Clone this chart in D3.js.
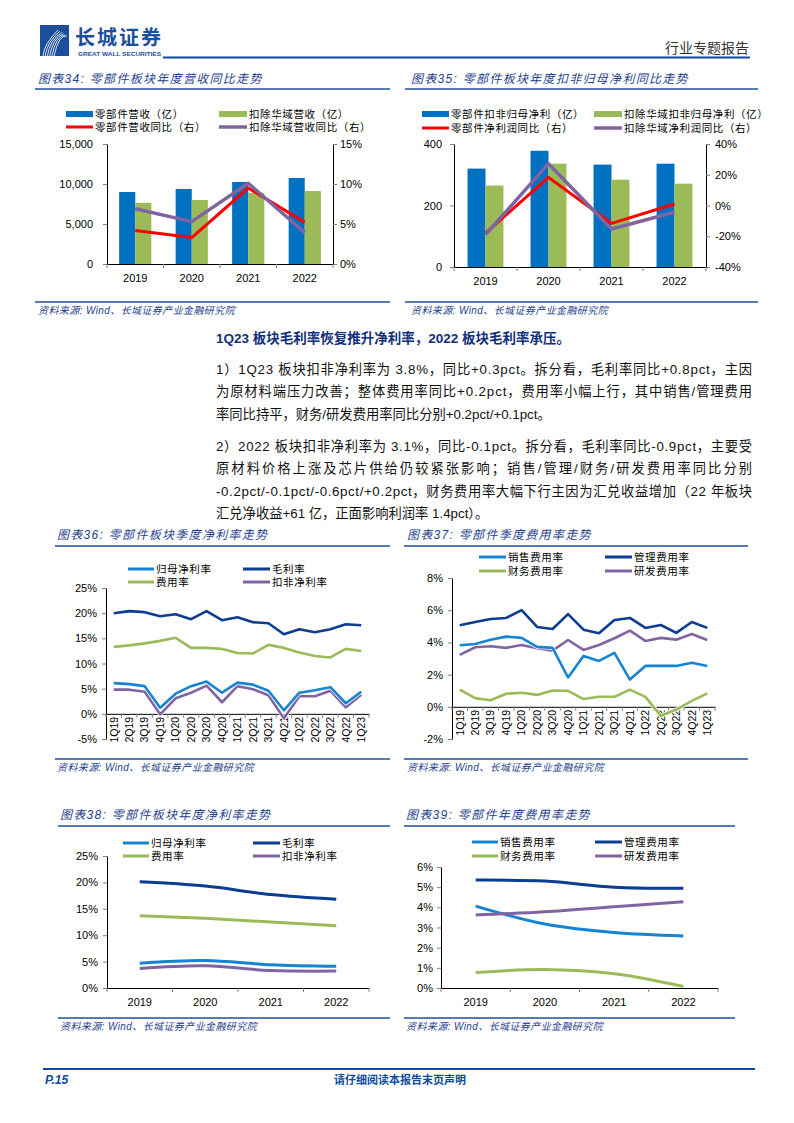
<!DOCTYPE html>
<html><head><meta charset="utf-8">
<script src="https://cdn.jsdelivr.net/npm/d3@7/dist/d3.min.js"></script>
<style>
html,body{margin:0;padding:0;background:#fff;}
</style></head><body>
<svg id="page" width="794" height="1123" xmlns="http://www.w3.org/2000/svg"></svg>
<script>
// ---------------- DATA ----------------
const years = ["2019", "2020", "2021", "2022"];
const quarters = ["1Q19","2Q19","3Q19","4Q19","1Q20","2Q20","3Q20","4Q20","1Q21","2Q21","3Q21","4Q21","1Q22","2Q22","3Q22","4Q22","1Q23"];

// 图表34 营收（亿）及同比（%）
const revenue = [9000, 9380, 10250, 10750];
const revenueExHY = [7650, 8000, 8900, 9120];
const revenueYoY = [4.2, 3.3, 9.5, 5.2];
const revenueExHYYoY = [6.9, 5.3, 10.1, 3.9];
const revLeftTicks = [0, 5000, 10000, 15000];
const revRightTicks = [0, 5, 10, 15];

// 图表35 扣非归母净利（亿）及同比（%）
const profit = [320, 378, 333, 336];
const profitExHY = [265, 336, 284, 271];
const profitYoY = [-17.9, 18.3, -11.6, 1.0];
const profitExHYYoY = [-19.0, 27.2, -15.3, -4.4];
const profLeftTicks = [0, 200, 400];
const profRightTicks = [-40, -20, 0, 20, 40];

// 图表36 季度净利率（%）
const qNetMargin = [6.1,5.9,5.5,1.2,4.0,5.5,6.4,4.2,6.2,5.8,4.6,0.7,4.2,4.7,5.3,2.1,4.4];
const qGrossMargin = [20.0,20.4,20.2,19.4,19.8,18.8,20.4,18.6,19.2,18.2,18.0,15.8,16.8,16.2,16.8,17.8,17.6];
const qExpenseRate = [13.3,13.6,14.0,14.5,15.1,13.1,13.1,12.9,12.1,12.0,13.7,13.1,12.2,11.5,11.2,12.9,12.5];
const qNetExMargin = [4.8,4.8,4.4,-0.1,3.1,4.2,5.6,2.3,5.5,4.9,3.7,-0.9,3.5,3.5,4.6,1.3,3.8];
const q36Ticks = [-5, 0, 5, 10, 15, 20, 25];

// 图表37 季度费用率（%）
const qSelling = [3.82,3.90,4.17,4.36,4.28,3.72,3.66,1.82,3.16,2.85,3.35,1.69,2.54,2.54,2.54,2.73,2.54];
const qAdmin = [5.06,5.27,5.45,5.52,6.01,4.96,4.83,5.76,4.79,4.57,5.39,5.52,4.90,5.08,4.59,5.27,4.90];
const qFinance = [1.07,0.54,0.41,0.81,0.87,0.74,1.01,0.99,0.48,0.62,0.62,1.07,0.62,-0.56,-0.17,0.37,0.83];
const qRD = [3.22,3.70,3.76,3.66,3.84,3.64,3.49,4.15,3.53,3.84,4.26,4.73,4.09,4.28,4.17,4.52,4.15];
const q37Ticks = [-2, 0, 2, 4, 6, 8];

// 图表38 年度净利率（%）
const yNetMargin = [4.7, 5.2, 4.4, 4.1];
const yGrossMargin = [20.1, 19.3, 17.7, 16.8];
const yExpenseRate = [13.7, 13.2, 12.5, 11.8];
const yNetExMargin = [3.7, 4.2, 3.3, 3.2];
const y38Ticks = [0, 5, 10, 15, 20, 25];

// 图表39 年度费用率（%）
const ySelling = [4.06, 3.17, 2.75, 2.58];
const yAdmin = [5.35, 5.30, 5.00, 4.95];
const yFinance = [0.77, 0.92, 0.71, 0.08];
const yRD = [3.62, 3.78, 4.03, 4.28];
const y39Ticks = [0, 1, 2, 3, 4, 5, 6];

// ---------------- STYLE ----------------
const NUM = "'Liberation Sans', Arial, 'Noto Sans CJK SC', sans-serif";
const CJK = "'Liberation Sans', 'Noto Sans CJK SC', sans-serif";
const TITLE_C = "#1F3F8C";
const RULE_C = "#1F4E99";
const C_BAR1 = "#0070C0", C_BAR2 = "#9BBB59", C_RED = "#FF0000", C_PURPLE = "#8064A2";
const C_LBLUE = "#1584D2", C_NAVY = "#0B3D91", C_GREEN = "#9BBB59";

const svg = d3.select("#page");

// ---------------- HEADER / FOOTER ----------------
(function header() {
  const g = svg.append("g");
  g.append("rect").attr("x", 40).attr("y", 25).attr("width", 29).attr("height", 31).attr("fill", "#1B4F9C");
  for (let i = 0; i < 6; i++) {
    g.append("path")
      .attr("d", `M${43 + i * 2.2},56 Q${44 + i * 3},${44 - i * 2} ${58 + i * 1.8},${30 + i * 1.2}`)
      .attr("fill", "none").attr("stroke", "#fff").attr("stroke-width", 0.9).attr("opacity", 0.9);
  }
  g.append("text").attr("x", 75).attr("y", 44.5).text("长城证券")
    .attr("font-family", "'Noto Sans CJK SC'").attr("font-weight", 700).attr("font-size", 20)
    .attr("letter-spacing", 2).attr("fill", "#1B4F9C");
  g.append("text").attr("x", 78).attr("y", 56).text("GREAT WALL SECURITIES")
    .attr("font-family", NUM).attr("font-weight", 700).attr("font-size", 5.8)
    .attr("textLength", 83).attr("lengthAdjust", "spacingAndGlyphs").attr("fill", "#1B4F9C");
  g.append("text").attr("x", 749).attr("y", 53).attr("text-anchor", "end").text("行业专题报告")
    .attr("font-family", "'Noto Sans CJK SC'").attr("font-size", 14).attr("fill", "#333");
  g.append("line").attr("x1", 163).attr("x2", 750).attr("y1", 57.5).attr("y2", 57.5)
    .attr("stroke", "#0B4A9E").attr("stroke-width", 2.2);

  svg.append("line").attr("x1", 43).attr("x2", 755).attr("y1", 1069).attr("y2", 1069)
    .attr("stroke", "#0B4A9E").attr("stroke-width", 2.2);
  svg.append("text").attr("x", 45).attr("y", 1084).text("P.15")
    .attr("font-family", NUM).attr("font-weight", 700).attr("font-style", "italic").attr("font-size", 12).attr("fill", "#0B4A9E");
  svg.append("text").attr("x", 400).attr("y", 1084).attr("text-anchor", "middle").text("请仔细阅读本报告末页声明")
    .attr("font-family", "'Noto Sans CJK SC'").attr("font-weight", 700).attr("font-size", 11).attr("fill", "#0B4A9E");
})();

// ---------------- PANEL FRAME ----------------
function panel(o) {
  svg.append("text").attr("x", o.tx).attr("y", o.ty).text(o.title)
    .attr("font-family", CJK).attr("font-style", "italic").attr("font-size", 12)
    .attr("letter-spacing", 1.3).attr("fill", TITLE_C);
  svg.append("line").attr("x1", o.x0).attr("x2", o.x1).attr("y1", o.r1).attr("y2", o.r1)
    .attr("stroke", RULE_C).attr("stroke-width", 1.4);
  svg.append("line").attr("x1", o.x0).attr("x2", o.x1).attr("y1", o.r2).attr("y2", o.r2)
    .attr("stroke", RULE_C).attr("stroke-width", 1.4);
  svg.append("text").attr("x", o.tx).attr("y", o.r2 + 12).text("资料来源: Wind、长城证券产业金融研究院")
    .attr("font-family", CJK).attr("font-style", "italic").attr("font-size", 10)
    .attr("letter-spacing", 0.4).attr("fill", TITLE_C);
}

function legend(items) {
  items.forEach(it => {
    if (it.type === "bar") {
      svg.append("rect").attr("x", it.sx).attr("y", it.y - 3).attr("width", it.sw).attr("height", 6).attr("fill", it.color);
    } else {
      svg.append("line").attr("x1", it.sx).attr("x2", it.sx + it.sw).attr("y1", it.y).attr("y2", it.y)
        .attr("stroke", it.color).attr("stroke-width", it.w || 3);
    }
    svg.append("text").attr("x", it.sx + it.sw + 2).attr("y", it.y).attr("dy", "0.36em").text(it.label)
      .attr("font-family", CJK).attr("font-size", 10.5).attr("letter-spacing", 0.6).attr("fill", "#000");
  });
}

function yAxis(scale, x, side, ticks, fmt, pad) {
  const ax = (side === "left" ? d3.axisLeft(scale) : d3.axisRight(scale))
    .tickValues(ticks).tickFormat(fmt).tickSizeOuter(0).tickSizeInner(4).tickPadding(pad);
  const a = svg.append("g").attr("transform", `translate(${x},0)`).call(ax);
  a.select(".domain").attr("stroke", "#000").attr("stroke-width", 1);
  a.selectAll(".tick line").attr("stroke", "#7f7f7f");
  a.selectAll(".tick text").attr("font-family", NUM).attr("font-size", 11).attr("fill", "#000");
  return a;
}

function xBoundaryTicks(band, y) {
  const r = band.range();
  const n = band.domain().length;
  const edges = d3.range(n + 1).map(i => r[0] + i * band.step());
  svg.append("g").selectAll("line").data(edges).join("line")
    .attr("x1", d => d).attr("x2", d => d).attr("y1", y).attr("y2", y + 4)
    .attr("stroke", "#7f7f7f").attr("stroke-width", 1);
}

function xAxisLabels(band, y, opts) {
  const ax = d3.axisBottom(band).tickSize(0).tickSizeOuter(0).tickPadding(opts.pad || 6);
  const a = svg.append("g").attr("transform", `translate(0,${y})`).call(ax);
  a.select(".domain").attr("stroke", "#000").attr("stroke-width", 1);
  a.selectAll(".tick text").attr("font-family", NUM).attr("font-size", opts.size || 11).attr("fill", "#000");
  if (opts.rotate) {
    a.selectAll(".tick text").attr("transform", "rotate(-90)").attr("text-anchor", "end")
      .attr("x", -3).attr("y", 0).attr("dy", "0.36em");
  }
  return a;
}

// ---------------- BAR + LINE COMBO ----------------
function comboChart(o) {
  const x = d3.scaleBand().domain(years).range([o.x0, o.x1]);
  const yL = d3.scaleLinear().domain(o.ldom).range([o.yb, o.yt]);
  const yR = d3.scaleLinear().domain(o.rdom).range([o.yb, o.yt]);
  const bw = x.bandwidth() * 0.285;
  const cx = d => x(d) + x.bandwidth() / 2;

  svg.append("g").selectAll("rect").data(years).join("rect")
    .attr("x", d => cx(d) - bw).attr("width", bw)
    .attr("y", (d, i) => yL(o.bar1[i])).attr("height", (d, i) => yL(0) - yL(o.bar1[i]))
    .attr("fill", C_BAR1);
  svg.append("g").selectAll("rect").data(years).join("rect")
    .attr("x", d => cx(d)).attr("width", bw)
    .attr("y", (d, i) => yL(o.bar2[i])).attr("height", (d, i) => yL(0) - yL(o.bar2[i]))
    .attr("fill", C_BAR2);

  yAxis(yL, o.x0, "left", o.lticks, o.lfmt, o.lpad);
  yAxis(yR, o.x1, "right", o.rticks, d => d + "%", o.rpad);
  xAxisLabels(x, o.yb, { pad: 10, size: 11 });
  xBoundaryTicks(x, o.yb);

  const line = d3.line().x((v, i) => cx(years[i])).y(v => yR(v));
  svg.append("path").datum(o.line1).attr("d", line).attr("fill", "none")
    .attr("stroke", C_RED).attr("stroke-width", 3).attr("stroke-linejoin", "round");
  svg.append("path").datum(o.line2).attr("d", line).attr("fill", "none")
    .attr("stroke", C_PURPLE).attr("stroke-width", 3.5).attr("stroke-linejoin", "round");
}

// 图表34
panel({ tx: 38, ty: 83, title: "图表34: 零部件板块年度营收同比走势", x0: 35, x1: 390, r1: 89, r2: 302 });
legend([
  { type: "bar", sx: 66, sw: 27, y: 114, color: C_BAR1, label: "零部件营收（亿）" },
  { type: "bar", sx: 219, sw: 28, y: 114, color: C_BAR2, label: "扣除华域营收（亿）" },
  { type: "line", sx: 66, sw: 27, y: 127, color: C_RED, label: "零部件营收同比（右）" },
  { type: "line", sx: 219, sw: 28, y: 127, color: C_PURPLE, w: 3.5, label: "扣除华域营收同比（右）" }
]);
comboChart({
  x0: 107, x1: 333, yt: 144, yb: 264,
  ldom: [0, 15000], rdom: [0, 15], lticks: revLeftTicks, rticks: revRightTicks,
  lfmt: d3.format(","), lpad: 10, rpad: 3,
  bar1: revenue, bar2: revenueExHY, line1: revenueYoY, line2: revenueExHYYoY
});

// 图表35
panel({ tx: 411, ty: 83, title: "图表35: 零部件板块年度扣非归母净利同比走势", x0: 405, x1: 758, r1: 89, r2: 302 });
legend([
  { type: "bar", sx: 422, sw: 27, y: 114, color: C_BAR1, label: "零部件扣非归母净利（亿）" },
  { type: "bar", sx: 594, sw: 28, y: 114, color: C_BAR2, label: "扣除华域扣非归母净利（亿）" },
  { type: "line", sx: 422, sw: 27, y: 128, color: C_RED, label: "零部件净利润同比（右）" },
  { type: "line", sx: 594, sw: 28, y: 128, color: C_PURPLE, w: 3.5, label: "扣除华域净利润同比（右）" }
]);
comboChart({
  x0: 454, x1: 706, yt: 144, yb: 267,
  ldom: [0, 400], rdom: [-40, 40], lticks: profLeftTicks, rticks: profRightTicks,
  lfmt: d3.format("d"), lpad: 8, rpad: 5,
  bar1: profit, bar2: profitExHY, line1: profitYoY, line2: profitExHYYoY
});

// ---------------- BODY TEXT ----------------
const heading = "1Q23 板块毛利率恢复推升净利率，2022 板块毛利率承压。";
const para1 = [
  "1）1Q23 板块扣非净利率为 3.8%，同比+0.3pct。拆分看，毛利率同比+0.8pct，主因",
  "为原材料端压力改善；整体费用率同比+0.2pct，费用率小幅上行，其中销售/管理费用",
  "率同比持平，财务/研发费用率同比分别+0.2pct/+0.1pct。"
];
const para2 = [
  "2）2022 板块扣非净利率为 3.1%，同比-0.1pct。拆分看，毛利率同比-0.9pct，主要受",
  "原材料价格上涨及芯片供给仍较紧张影响；销售/管理/财务/研发费用率同比分别",
  "-0.2pct/-0.1pct/-0.6pct/+0.2pct，财务费用率大幅下行主因为汇兑收益增加（22 年板块",
  "汇兑净收益+61 亿，正面影响利润率 1.4pct）。"
];
svg.append("text").attr("x", 216).attr("y", 343).text(heading)
  .attr("font-family", CJK).attr("font-weight", 700).attr("font-size", 13.5).attr("fill", "#102F7C");
function para(lines, y0) {
  lines.forEach((t, i) => {
    const el = svg.append("text").attr("x", 216).attr("y", y0 + i * 22.4).text(t)
      .attr("font-family", CJK).attr("font-size", 13.3).attr("fill", "#111");
    if (i < lines.length - 1) el.attr("textLength", 536).attr("lengthAdjust", "spacing");
  });
}
para(para1, 374);
para(para2, 451);

// ---------------- LINE CHARTS ----------------
function lineChart(o) {
  const x = d3.scaleBand().domain(o.cats).range([o.x0, o.x1]);
  const y = d3.scaleLinear().domain(o.dom).range([o.yb, o.yt]);
  const cx = d => x(d) + x.bandwidth() / 2;
  yAxis(y, o.x0, "left", o.ticks, d => d + "%", o.pad);
  xAxisLabels(x, y(0), o.rotate ? { rotate: true, size: 10.5 } : { pad: 10, size: 11 });
  xBoundaryTicks(x, y(0));
  const line = d3.line().x((v, i) => cx(o.cats[i])).y(v => y(v));
  if (o.smooth) line.curve(d3.curveCatmullRom.alpha(0.5));
  o.series.forEach(s => {
    if (o.casing) {
      svg.append("path").datum(s.vals).attr("d", line).attr("fill", "none")
        .attr("stroke", "#fff").attr("stroke-width", o.lw + 1.6).attr("stroke-linejoin", "round").attr("opacity", 0.9);
    }
    svg.append("path").datum(s.vals).attr("d", line).attr("fill", "none")
      .attr("stroke", s.color).attr("stroke-width", o.lw).attr("stroke-linejoin", "round").attr("stroke-linecap", "butt");
  });
}

// 图表36
panel({ tx: 57, ty: 539, title: "图表36: 零部件板块季度净利率走势", x0: 55, x1: 390, r1: 546, r2: 759 });
legend([
  { type: "line", sx: 128, sw: 26, y: 569, color: C_LBLUE, label: "归母净利率" },
  { type: "line", sx: 243, sw: 27, y: 569, color: C_NAVY, label: "毛利率" },
  { type: "line", sx: 128, sw: 26, y: 582, color: C_GREEN, label: "费用率" },
  { type: "line", sx: 243, sw: 27, y: 582, color: C_PURPLE, label: "扣非净利率" }
]);
lineChart({
  cats: quarters, x0: 106, x1: 369, yt: 588, yb: 739, dom: [-5, 25], ticks: q36Ticks, pad: 5,
  rotate: true, lw: 2.6, casing: true,
  series: [
    { vals: qGrossMargin, color: C_NAVY },
    { vals: qExpenseRate, color: C_GREEN },
    { vals: qNetExMargin, color: C_PURPLE },
    { vals: qNetMargin, color: C_LBLUE }
  ]
});

// 图表37
panel({ tx: 407, ty: 539, title: "图表37: 零部件季度费用率走势", x0: 404, x1: 748, r1: 546, r2: 759 });
legend([
  { type: "line", sx: 479, sw: 27, y: 557, color: C_LBLUE, label: "销售费用率" },
  { type: "line", sx: 605, sw: 27, y: 557, color: C_NAVY, label: "管理费用率" },
  { type: "line", sx: 479, sw: 27, y: 571, color: C_GREEN, label: "财务费用率" },
  { type: "line", sx: 605, sw: 27, y: 571, color: C_PURPLE, label: "研发费用率" }
]);
lineChart({
  cats: quarters, x0: 452, x1: 715, yt: 578, yb: 739, dom: [-2, 8], ticks: q37Ticks, pad: 5,
  rotate: true, lw: 2.6, casing: true,
  series: [
    { vals: qFinance, color: C_GREEN },
    { vals: qRD, color: C_PURPLE },
    { vals: qSelling, color: C_LBLUE },
    { vals: qAdmin, color: C_NAVY }
  ]
});

// 图表38
panel({ tx: 60, ty: 819, title: "图表38: 零部件板块年度净利率走势", x0: 58, x1: 390, r1: 826, r2: 1018 });
legend([
  { type: "line", sx: 123, sw: 26, y: 843, color: C_LBLUE, label: "归母净利率" },
  { type: "line", sx: 253, sw: 27, y: 843, color: C_NAVY, label: "毛利率" },
  { type: "line", sx: 123, sw: 26, y: 856, color: C_GREEN, label: "费用率" },
  { type: "line", sx: 253, sw: 27, y: 856, color: C_PURPLE, label: "扣非净利率" }
]);
lineChart({
  cats: years, x0: 107, x1: 369, yt: 856, yb: 988, dom: [0, 25], ticks: y38Ticks, pad: 5,
  rotate: false, lw: 3, smooth: true, casing: false,
  series: [
    { vals: yNetMargin, color: C_LBLUE },
    { vals: yGrossMargin, color: C_NAVY },
    { vals: yExpenseRate, color: C_GREEN },
    { vals: yNetExMargin, color: C_PURPLE }
  ]
});

// 图表39
panel({ tx: 406, ty: 819, title: "图表39: 零部件年度费用率走势", x0: 404, x1: 735, r1: 826, r2: 1018 });
legend([
  { type: "line", sx: 472, sw: 26, y: 842, color: C_LBLUE, label: "销售费用率" },
  { type: "line", sx: 595, sw: 27, y: 842, color: C_NAVY, label: "管理费用率" },
  { type: "line", sx: 472, sw: 26, y: 856, color: C_GREEN, label: "财务费用率" },
  { type: "line", sx: 595, sw: 27, y: 856, color: C_PURPLE, label: "研发费用率" }
]);
lineChart({
  cats: years, x0: 441, x1: 718, yt: 867, yb: 988, dom: [0, 6], ticks: y39Ticks, pad: 4,
  rotate: false, lw: 3, smooth: true, casing: false,
  series: [
    { vals: ySelling, color: C_LBLUE },
    { vals: yAdmin, color: C_NAVY },
    { vals: yFinance, color: C_GREEN },
    { vals: yRD, color: C_PURPLE }
  ]
});
</script>
</body></html>
